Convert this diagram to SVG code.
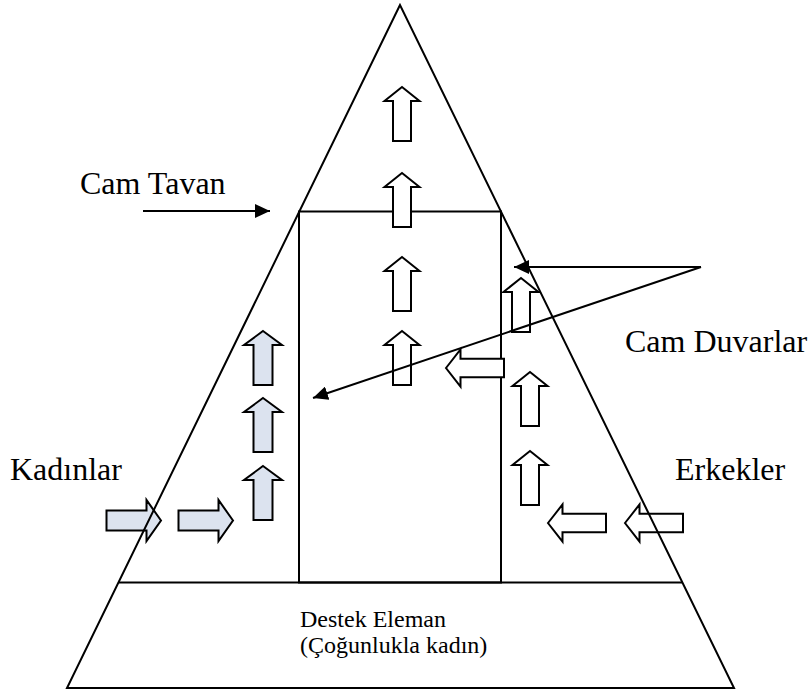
<svg xmlns="http://www.w3.org/2000/svg" width="810" height="691" viewBox="0 0 810 691">
  <style>
    .edge { fill: none; stroke: #000; stroke-width: 2; }
    .blk { stroke: #000; stroke-width: 2; stroke-linejoin: miter; }
    .men { fill: #fff; }
    .women { fill: #dce3ef; }
    .label { font-family: "Liberation Serif", "Times New Roman", serif; fill: #000; }
    .big { font-size: 32px; }
    .small { font-size: 24px; }
  </style>
  <defs>
    <!-- block arrows, drawn with the tip at the origin -->
    <path id="up" d="M0,0 L17.5,14 L9,14 L9,54 L-9,54 L-9,14 L-17.5,14 Z"/>
    <path id="upw" d="M0,0 L19,14 L9.5,14 L9.5,54 L-9.5,54 L-9.5,14 L-19,14 Z"/>
    <path id="left" d="M0,0 L14.5,-18.5 L14.5,-9.3 L58,-9.3 L58,9.3 L14.5,9.3 L14.5,18.5 Z"/>
    <path id="right" d="M0,0 L-14.5,-20.5 L-14.5,-10 L-54.5,-10 L-54.5,10 L-14.5,10 L-14.5,20.5 Z"/>
    <marker id="head" viewBox="0 0 15 14" refX="15" refY="7" markerWidth="15" markerHeight="14" markerUnits="userSpaceOnUse" orient="auto">
      <path d="M0,0 L15,7 L0,14 Z" fill="#000"/>
    </marker>
  </defs>

  <!-- inner column and base divider -->
  <g id="column">
    <rect class="edge" x="299" y="211.5" width="202" height="371"/>
  </g>
  <g id="support-band">
    <line class="edge" x1="119" y1="582.5" x2="682" y2="582.5"/>
    <text class="label small" x="300" y="627">Destek Eleman</text>
    <text class="label small" x="300" y="653">(Çoğunlukla kadın)</text>
  </g>

  <!-- promotion paths -->
  <g id="center-path" class="blk men">
    <use href="#up" x="402" y="87"/>
    <use href="#up" x="402" y="173"/>
    <use href="#up" x="402" y="257"/>
    <use href="#up" x="402" y="331"/>
  </g>
  <g id="men-path" class="blk men">
    <use href="#left" x="625" y="523"/>
    <use href="#left" x="548" y="523"/>
    <use href="#up" x="530" y="451"/>
    <use href="#up" x="530" y="372"/>
    <use href="#left" x="446" y="368"/>
    <use href="#up" x="521" y="278"/>
  </g>
  <g id="women-path" class="blk women">
    <use href="#right" x="161" y="520.5"/>
    <use href="#right" x="233" y="520.5"/>
    <use href="#upw" x="263" y="466"/>
    <use href="#upw" x="263" y="398"/>
    <use href="#upw" x="263" y="331"/>
  </g>

  <!-- pyramid outline -->
  <g id="pyramid">
    <polygon class="edge" points="400,5 67,688 734,688"/>
  </g>

  <!-- labels -->
  <g id="label-ceiling"><text class="label big" x="80" y="194">Cam Tavan</text></g>
  <g id="label-walls"><text class="label big" x="625" y="352">Cam Duvarlar</text></g>
  <g id="label-women"><text class="label big" x="10" y="480">Kadınlar</text></g>
  <g id="label-men"><text class="label big" x="675" y="480">Erkekler</text></g>

  <!-- pointers -->
  <g id="connectors" class="edge" marker-end="url(#head)">
    <line x1="143" y1="211" x2="270" y2="211"/>
    <line x1="701" y1="267" x2="514" y2="267"/>
    <line x1="701" y1="267" x2="313" y2="398"/>
  </g>
</svg>
